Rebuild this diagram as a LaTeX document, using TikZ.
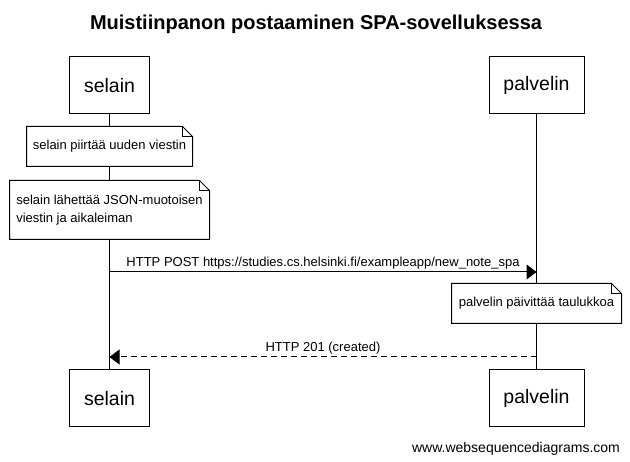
\documentclass[tikz,border=0pt]{standalone}
\usepackage{fontspec}
\setmainfont{Liberation Sans}
\usetikzlibrary{arrows.meta}
\newcommand\drawnote[1]{%
  \filldraw[fill=white] (#1.south west) -- (#1.north west) -- ([xshift=-10pt]#1.north east) -- ([yshift=-10pt]#1.north east) -- (#1.south east) -- cycle;
  \draw ([xshift=-10pt]#1.north east) |- ([yshift=-10pt]#1.north east);
}
\begin{document}
\begin{tikzpicture}[x=1pt,y=-1pt,line width=1pt,
  actor/.style={draw, fill=white, minimum height=57pt, inner sep=0pt, font=\fontsize{19.5}{22}\selectfont},
  notebox/.style={inner sep=0pt, font=\fontsize{13}{18}\selectfont},
  msg/.style={-{Triangle[length=10pt,width=15pt]}},
  reply/.style={msg, dash pattern=on 6pt off 4pt},
  lbl/.style={font=\fontsize{13}{15}\selectfont, inner sep=0pt}]
\useasboundingbox (0,0) rectangle (630,462);
% title
\node[font=\fontsize{20}{24}\selectfont\bfseries] (title) at (316,24) {Muistiinpanon postaaminen SPA-sovelluksessa};
% actors
\node[actor, minimum width=80pt] (s1) at (109.5,85.5) {selain};
\node[actor, minimum width=95pt] (p1) at (536.5,85.5) {palvelin};
\node[actor, minimum width=80pt] (s2) at (109.5,398.5) {selain};
\node[actor, minimum width=95pt] (p2) at (536.5,398.5) {palvelin};
% lifelines
\draw (s1.south) -- (s2.north);
\draw (p1.south) -- (p2.north);
% notes
\node[notebox, minimum width=165pt, minimum height=39pt] (n1) at (109.5,146.5) {selain piirtää uuden viestin};
\drawnote{n1}
\node[notebox] at (n1) {selain piirtää uuden viestin};
\node[notebox, minimum width=199pt, minimum height=58pt, align=left] (n2) at (109.5,210) {selain lähettää JSON-muotoisen\\viestin ja aikaleiman};
\drawnote{n2}
\node[notebox, align=left] at (n2) {selain lähettää JSON-muotoisen\\viestin ja aikaleiman};
% messages
\coordinate (m1s) at (109.5,272);
\coordinate (m1e) at (536.5,272);
\draw[msg] (m1s) -- node[lbl, above=2.5pt] (l1) {HTTP POST https://studies.cs.helsinki.fi/exampleapp/new\_note\_spa} (m1e);
\node[notebox, minimum width=169pt, minimum height=39pt] (n3) at (536.5,303.5) {palvelin päivittää taulukkoa};
\drawnote{n3}
\node[notebox] at (n3) {palvelin päivittää taulukkoa};
\coordinate (m2s) at (536.5,357);
\coordinate (m2e) at (109.5,357);
\draw[reply] (m2s) -- node[lbl, above=2pt] (l2) {HTTP 201 (created)} (m2e);
% footer
\node[font=\fontsize{14}{16}\selectfont, inner sep=0pt] (footer) at (516,449) {www.websequencediagrams.com};
\end{tikzpicture}
\end{document}
